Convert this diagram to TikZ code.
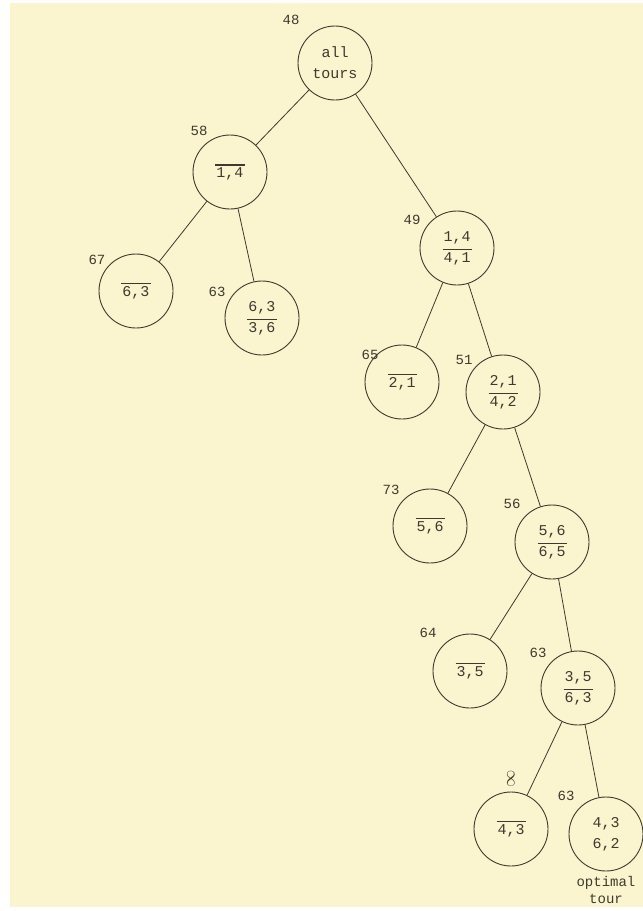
\documentclass[tikz,border=0pt]{standalone}
\usepackage{fontspec}
\setmonofont{Liberation Mono}
\usepackage{xcolor}
\usetikzlibrary{positioning}
\definecolor{paper}{RGB}{250,244,207}
\definecolor{ink}{RGB}{62,58,46}
% edge pair with a bar on top (excluded edge)
\newcommand{\barred}[1]{\leavevmode\vbox{\hrule height 1.6pt\kern 2pt\hbox{\kern1pt#1\kern1pt}}}
\tikzstyle{state} = [circle, draw=ink, line width=0.9pt, minimum size=74pt, inner sep=0pt, align=center, text=ink, font=\fontsize{15}{21}\selectfont\ttfamily]
\tikzstyle{bound} = [inner sep=0pt, text=ink, font=\fontsize{14}{16}\selectfont\ttfamily]
\tikzstyle{branch} = [draw=ink, line width=0.8pt]

\begin{document}
\begin{tikzpicture}[node distance=140pt]
    \useasboundingbox (0,0) rectangle (643pt,-911pt);
    \fill [white] (0,0) rectangle (643pt,-911pt);
    \fill [paper] (10pt,-3pt) rectangle (643pt,-907pt);

    \node (all) [state] at (335pt,-63pt) {all\\tours};
    \node (n58) [state, below of=all, xshift=-105pt, yshift=31pt] {\barred{1,4}};
    \node (n67) [state, below of=n58, xshift=-94pt, yshift=21pt] {\barred{6,3}};
    \node (n63a) [state, below of=n58, xshift=32pt, yshift=-6pt] {6,3\\\barred{3,6}};
    \node (n49) [state, below of=all, xshift=122pt, yshift=-45pt] {1,4\\\barred{4,1}};
    \node (n65) [state, below of=n49, xshift=-55pt, yshift=6pt] {\barred{2,1}};
    \node (n51) [state, below of=n49, xshift=46pt, yshift=-4pt] {2,1\\\barred{4,2}};
    \node (n73) [state, below of=n51, xshift=-73pt, yshift=6pt] {\barred{5,6}};
    \node (n56) [state, below of=n51, xshift=49pt, yshift=-10pt] {5,6\\\barred{6,5}};
    \node (n64) [state, below of=n56, xshift=-82pt, yshift=11pt] {\barred{3,5}};
    \node (n63b) [state, below of=n56, xshift=26pt, yshift=-6pt] {3,5\\\barred{6,3}};
    \node (ninf) [state, below of=n63b, xshift=-67pt, yshift=-1pt] {\barred{4,3}};
    \node (nopt) [state, below of=n63b, xshift=28pt, yshift=-6pt] {4,3\\6,2};
    \node (opt) [bound, below=5pt of nopt, align=center, font=\fontsize{14}{17}\selectfont\ttfamily] {optimal\\tour};

    % lower bounds
    \node (b48) [bound] at ([shift={(-44pt,43pt)}]all) {48};
    \node (b58) [bound] at ([shift={(-31pt,41pt)}]n58) {58};
    \node (b67) [bound] at ([shift={(-39pt,31pt)}]n67) {67};
    \node (b63a) [bound] at ([shift={(-45pt,26pt)}]n63a) {63};
    \node (b49) [bound] at ([shift={(-45pt,28pt)}]n49) {49};
    \node (b65) [bound] at ([shift={(-32pt,27pt)}]n65) {65};
    \node (b51) [bound] at ([shift={(-39pt,32pt)}]n51) {51};
    \node (b73) [bound] at ([shift={(-39pt,36pt)}]n73) {73};
    \node (b56) [bound] at ([shift={(-40pt,38pt)}]n56) {56};
    \node (b64) [bound] at ([shift={(-42pt,38pt)}]n64) {64};
    \node (b63b) [bound] at ([shift={(-40pt,35pt)}]n63b) {63};
    \node (binf) [bound, rotate=90, font=\fontsize{19}{21}\selectfont] at ([shift={(0pt,50pt)}]ninf) {$\infty$};
    \node (b63c) [bound] at ([shift={(-40pt,38pt)}]nopt) {63};

    \draw [branch] (all) -- (n58);
    \draw [branch] (all) -- (n49);
    \draw [branch] (n58) -- (n67);
    \draw [branch] (n58) -- (n63a);
    \draw [branch] (n49) -- (n65);
    \draw [branch] (n49) -- (n51);
    \draw [branch] (n51) -- (n73);
    \draw [branch] (n51) -- (n56);
    \draw [branch] (n56) -- (n64);
    \draw [branch] (n56) -- (n63b);
    \draw [branch] (n63b) -- (ninf);
    \draw [branch] (n63b) -- (nopt);
\end{tikzpicture}
\end{document}
